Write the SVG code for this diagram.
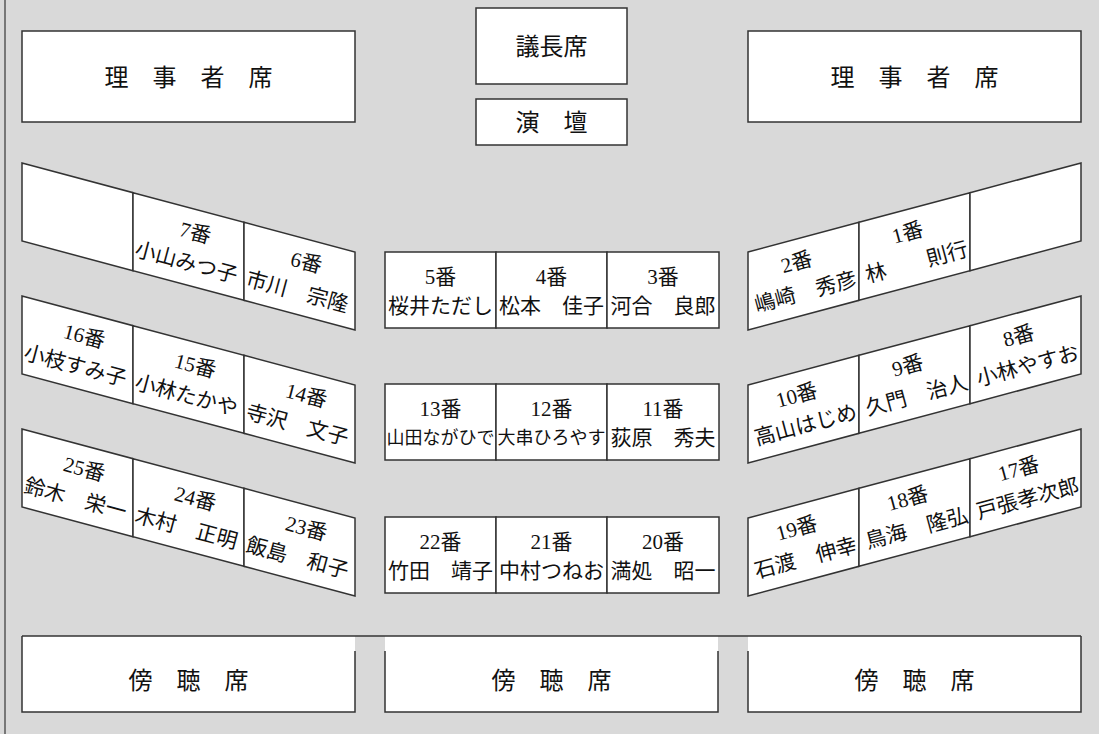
<svg xmlns="http://www.w3.org/2000/svg" width="1099" height="734" viewBox="0 0 1099 734">
<style>
.box{fill:#fff;stroke:#333;stroke-width:1.5}
.ln{stroke:#333;stroke-width:1.5;fill:none}
.t{font-family:"Liberation Serif","Noto Sans CJK JP",serif;font-size:21px;fill:#111;text-anchor:middle}
.s{font-size:18px}
.h{font-family:"Liberation Serif","Noto Sans CJK JP",serif;font-size:24px;fill:#111;text-anchor:middle}
</style>
<rect x="0" y="0" width="1099" height="734" fill="#d9d9d9"/>
<line x1="5" y1="0" x2="5" y2="734" stroke="#777" stroke-width="2"/>

<g id="riji-left"><rect class="box" x="22" y="31" width="333" height="91"/><text class="h" x="188.5" y="86">理　事　者　席</text></g>
<g id="riji-right"><rect class="box" x="748" y="31" width="333" height="91"/><text class="h" x="914.5" y="86">理　事　者　席</text></g>
<g id="gicho"><rect class="box" x="476" y="8" width="151" height="76"/><text class="h" x="551.5" y="55">議長席</text></g>
<g id="endan"><rect class="box" x="476" y="99" width="151" height="46"/><text class="h" x="551.5" y="131">演　壇</text></g>

<!-- left slanted seats -->
<g id="L1a"><polygon class="box" points="22,163 133,192.67 133,270.67 22,241"/></g>
<g id="L1b"><polygon class="box" points="133,192.67 244,222.34 244,300.34 133,270.67"/><g transform="translate(188.5,246.51) rotate(15)"><text class="t" x="3" y="-8">7番</text><text class="t" x="2" y="23">小山みつ子</text></g></g>
<g id="L1c"><polygon class="box" points="244,222.34 355,252 355,330 244,300.34"/><g transform="translate(299.5,276.17) rotate(15)"><text class="t" x="3" y="-8">6番</text><text class="t" x="2" y="23">市川　宗隆</text></g></g>
<g id="L2a"><polygon class="box" points="22,296 133,325.67 133,403.67 22,374"/><g transform="translate(77.5,349.84) rotate(15)"><text class="t" x="3" y="-8">16番</text><text class="t" x="2" y="23">小枝すみ子</text></g></g>
<g id="L2b"><polygon class="box" points="133,325.67 244,355.34 244,433.34 133,403.67"/><g transform="translate(188.5,379.51) rotate(15)"><text class="t" x="3" y="-8">15番</text><text class="t" x="2" y="23">小林たかや</text></g></g>
<g id="L2c"><polygon class="box" points="244,355.34 355,385 355,463 244,433.34"/><g transform="translate(299.5,409.17) rotate(15)"><text class="t" x="3" y="-8">14番</text><text class="t" x="2" y="23">寺沢　文子</text></g></g>
<g id="L3a"><polygon class="box" points="22,429 133,458.67 133,536.67 22,507"/><g transform="translate(77.5,482.84) rotate(15)"><text class="t" x="3" y="-8">25番</text><text class="t" x="2" y="23">鈴木　栄一</text></g></g>
<g id="L3b"><polygon class="box" points="133,458.67 244,488.34 244,566.34 133,536.67"/><g transform="translate(188.5,512.51) rotate(15)"><text class="t" x="3" y="-8">24番</text><text class="t" x="2" y="23">木村　正明</text></g></g>
<g id="L3c"><polygon class="box" points="244,488.34 355,518 355,596 244,566.34"/><g transform="translate(299.5,542.17) rotate(15)"><text class="t" x="3" y="-8">23番</text><text class="t" x="2" y="23">飯島　和子</text></g></g>

<!-- right slanted seats -->
<g id="R1a"><polygon class="box" points="748,252 859,222.34 859,300.34 748,330"/><g transform="translate(803.5,276.17) rotate(-15)"><text class="t" x="-3" y="-8">2番</text><text class="t" x="-2" y="23">嶋崎　秀彦</text></g></g>
<g id="R1b"><polygon class="box" points="859,222.34 970,192.67 970,270.67 859,300.34"/><g transform="translate(914.5,246.51) rotate(-15)"><text class="t" x="-3" y="-8">1番</text><text class="t" x="-2" y="23">林　　則行</text></g></g>
<g id="R1c"><polygon class="box" points="970,192.67 1081,163 1081,241 970,270.67"/></g>
<g id="R2a"><polygon class="box" points="748,385 859,355.34 859,433.34 748,463"/><g transform="translate(803.5,409.17) rotate(-15)"><text class="t" x="-3" y="-8">10番</text><text class="t" x="-2" y="23">高山はじめ</text></g></g>
<g id="R2b"><polygon class="box" points="859,355.34 970,325.67 970,403.67 859,433.34"/><g transform="translate(914.5,379.51) rotate(-15)"><text class="t" x="-3" y="-8">9番</text><text class="t" x="-2" y="23">久門　治人</text></g></g>
<g id="R2c"><polygon class="box" points="970,325.67 1081,296 1081,374 970,403.67"/><g transform="translate(1025.5,349.84) rotate(-15)"><text class="t" x="-3" y="-8">8番</text><text class="t" x="-2" y="23">小林やすお</text></g></g>
<g id="R3a"><polygon class="box" points="748,518 859,488.34 859,566.34 748,596"/><g transform="translate(803.5,542.17) rotate(-15)"><text class="t" x="-3" y="-8">19番</text><text class="t" x="-2" y="23">石渡　伸幸</text></g></g>
<g id="R3b"><polygon class="box" points="859,488.34 970,458.67 970,536.67 859,566.34"/><g transform="translate(914.5,512.51) rotate(-15)"><text class="t" x="-3" y="-8">18番</text><text class="t" x="-2" y="23">鳥海　隆弘</text></g></g>
<g id="R3c"><polygon class="box" points="970,458.67 1081,429 1081,507 970,536.67"/><g transform="translate(1025.5,482.84) rotate(-15)"><text class="t" x="-3" y="-8">17番</text><text class="t" x="-2" y="23">戸張孝次郎</text></g></g>

<!-- center tables -->
<g id="C1a"><rect class="box" x="385" y="252" width="111" height="76"/><text class="t" x="440.5" y="284">5番</text><text class="t" x="440.5" y="313">桜井ただし</text></g>
<g id="C1b"><rect class="box" x="496" y="252" width="111" height="76"/><text class="t" x="551.5" y="284">4番</text><text class="t" x="551.5" y="313">松本　佳子</text></g>
<g id="C1c"><rect class="box" x="607" y="252" width="112" height="76"/><text class="t" x="663" y="284">3番</text><text class="t" x="663" y="313">河合　良郎</text></g>
<g id="C2a"><rect class="box" x="385" y="384" width="111" height="76"/><text class="t" x="440.5" y="416">13番</text><text class="t s" x="440.5" y="444">山田ながひで</text></g>
<g id="C2b"><rect class="box" x="496" y="384" width="111" height="76"/><text class="t" x="551.5" y="416">12番</text><text class="t s" x="551.5" y="444">大串ひろやす</text></g>
<g id="C2c"><rect class="box" x="607" y="384" width="112" height="76"/><text class="t" x="663" y="416">11番</text><text class="t" x="663" y="445">荻原　秀夫</text></g>
<g id="C3a"><rect class="box" x="385" y="517" width="111" height="76"/><text class="t" x="440.5" y="549">22番</text><text class="t" x="440.5" y="578">竹田　靖子</text></g>
<g id="C3b"><rect class="box" x="496" y="517" width="111" height="76"/><text class="t" x="551.5" y="549">21番</text><text class="t" x="551.5" y="578">中村つねお</text></g>
<g id="C3c"><rect class="box" x="607" y="517" width="112" height="76"/><text class="t" x="663" y="549">20番</text><text class="t" x="663" y="578">満処　昭一</text></g>

<!-- gallery -->
<g id="gallery">
<rect x="22" y="636" width="333" height="76" fill="#fff"/>
<rect x="385" y="636" width="333" height="76" fill="#fff"/>
<rect x="748" y="636" width="333" height="76" fill="#fff"/>
<line class="ln" x1="22" y1="636" x2="1081" y2="636"/>
<path class="ln" d="M22,636 V712 H355 V651 M385,651 V712 H718 V651 M748,651 V712 H1081 V636"/>
<text class="h" x="188.5" y="689">傍　聴　席</text>
<text class="h" x="551.5" y="689">傍　聴　席</text>
<text class="h" x="914.5" y="689">傍　聴　席</text>
</g>
</svg>
